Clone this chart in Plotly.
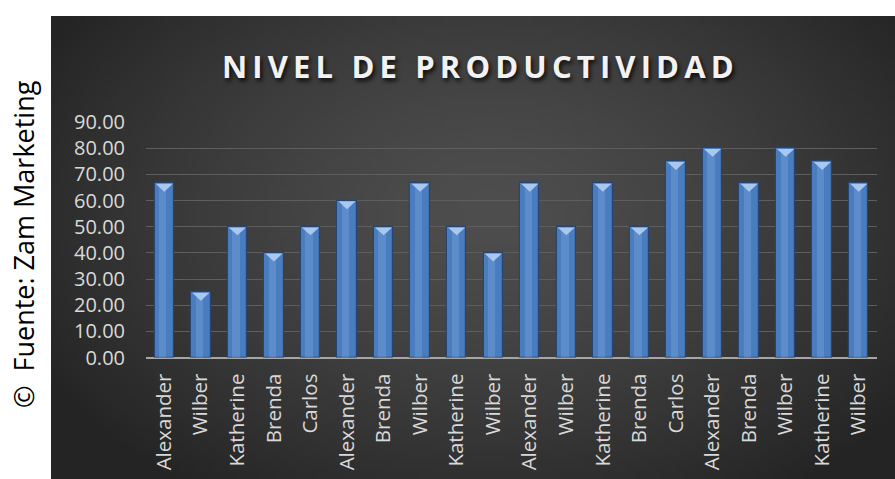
import base64
import struct
import zlib

import numpy as np
import plotly.graph_objects as go

# ---- data -------------------------------------------------------------
nombres = ["Alexander", "Wilber", "Katherine", "Brenda", "Carlos",
           "Alexander", "Brenda", "Wilber", "Katherine", "Wilber",
           "Alexander", "Wilber", "Katherine", "Brenda", "Carlos",
           "Alexander", "Brenda", "Wilber", "Katherine", "Wilber"]
productividad = [66.67, 25.00, 50.00, 40.00, 50.00,
                 60.00, 50.00, 66.67, 50.00, 40.00,
                 66.67, 50.00, 66.67, 50.00, 75.00,
                 80.00, 66.67, 80.00, 75.00, 66.67]
y_ticks = [0, 10, 20, 30, 40, 50, 60, 70, 80, 90]
titulo = "NIVEL DE PRODUCTIVIDAD"
fuente = "©  Fuente: Zam Marketing"

W, H = 895, 479
pos = list(range(len(nombres)))


# ---- dark radial background, encoded as a small PNG ----------------------
def png_data_uri(rgb):
    h, w, _ = rgb.shape
    raw = b"".join(b"\x00" + rgb[r].astype(np.uint8).tobytes() for r in range(h))

    def chunk(tag, data):
        c = struct.pack(">I", len(data)) + tag + data
        return c + struct.pack(">I", zlib.crc32(tag + data) & 0xFFFFFFFF)

    png = (b"\x89PNG\r\n\x1a\n"
           + chunk(b"IHDR", struct.pack(">IIBBBBB", w, h, 8, 2, 0, 0, 0))
           + chunk(b"IDAT", zlib.compress(raw, 9))
           + chunk(b"IEND", b""))
    return "data:image/png;base64," + base64.b64encode(png).decode()


gw, gh = 160, 90
gx, gy = np.meshgrid(np.linspace(0, 1, gw), np.linspace(0, 1, gh))
dist = np.sqrt(((gx - 0.52) / 0.62) ** 2 + ((gy - 0.42) / 0.75) ** 2)
dist = np.clip(dist, 0, 1)
light = 78 - (78 - 36) * dist ** 1.4
bg = np.repeat(light[:, :, None], 3, axis=2)

fig = go.Figure()

# main bars
fig.add_trace(go.Bar(
    x=pos, y=productividad, width=0.53,
    marker=dict(color="#4a7dbf", line=dict(color="#27456f", width=1.2)),
    hoverinfo="skip",
))
# soft highlight down the middle of each bar
fig.add_trace(go.Bar(
    x=[p - 0.04 for p in pos], y=[v - 0.6 for v in productividad], width=0.2,
    marker=dict(color="rgba(130,170,225,0.35)", line=dict(width=0)),
    hoverinfo="skip",
))

# bevelled cap: light triangle at the top of every bar
tx, ty = [], []
for p, v in zip(pos, productividad):
    tx += [p - 0.235, p + 0.235, p, p - 0.235, None]
    ty += [v - 0.3, v - 0.3, v - 3.3, v - 0.3, None]
fig.add_trace(go.Scatter(
    x=tx, y=ty, mode="lines", fill="toself",
    fillcolor="#a8c8f0", line=dict(width=0, color="#a8c8f0"),
    hoverinfo="skip",
))

# widen the title by placing thin spaces between its letters
titulo_espaciado = "\u2009".join(titulo)

fig.update_layout(
    width=W, height=H, autosize=False,
    margin=dict(l=0, r=0, t=0, b=0, pad=0, autoexpand=False),
    paper_bgcolor="white",
    plot_bgcolor="rgba(0,0,0,0)",
    barmode="overlay",
    bargap=0,
    showlegend=False,
    font=dict(family="Open Sans, sans-serif", color="#d9d9d9"),
    images=[dict(
        source=png_data_uri(bg), xref="paper", yref="paper",
        x=51 / W, y=1 - 16 / H, sizex=1 - 51 / W, sizey=1 - 16 / H,
        xanchor="left", yanchor="top", sizing="stretch", layer="below",
    )],
    xaxis=dict(
        domain=[146 / W, 877 / W],
        range=[-0.5, len(nombres) - 0.5],
        tickmode="array", tickvals=pos, ticktext=nombres,
        tickangle=-90, tickfont=dict(size=20.5, color="#d9d9d9"),
        ticklabelstandoff=11,
        showgrid=False, zeroline=False, automargin=False,
        showline=False, ticks="", fixedrange=True,
    ),
    yaxis=dict(
        domain=[(H - 357.5) / H, (H - 122) / H],
        range=[0, 90],
        tickmode="array", tickvals=y_ticks,
        ticktext=[f"{t:.2f}" for t in y_ticks],
        tickfont=dict(size=20, color="#d9d9d9"),
        showgrid=True, gridcolor="#5e5e5e", gridwidth=1,
        zeroline=True, zerolinecolor="#a6a6a6", zerolinewidth=2,
        showline=False, ticks="", ticklabelstandoff=20,
        automargin=False, fixedrange=True,
    ),
    annotations=[
        dict(text=f"<b>{titulo_espaciado}</b>", xref="paper", yref="paper",
             x=478 / W, y=1 - 66 / H, xanchor="center", yanchor="middle",
             showarrow=False,
             font=dict(size=31, color="#f2f2f2", family="Open Sans, sans-serif",
                       shadow="2px 3px 4px rgba(0,0,0,0.8)")),
        dict(text=fuente, xref="paper", yref="paper",
             x=23 / W, y=1 - 244 / H, xanchor="center", yanchor="middle",
             textangle=-90, showarrow=False,
             font=dict(size=27, color="#000000", family="Open Sans, sans-serif")),
    ],
)

fig.write_html("out.html", config={"displayModeBar": False})
